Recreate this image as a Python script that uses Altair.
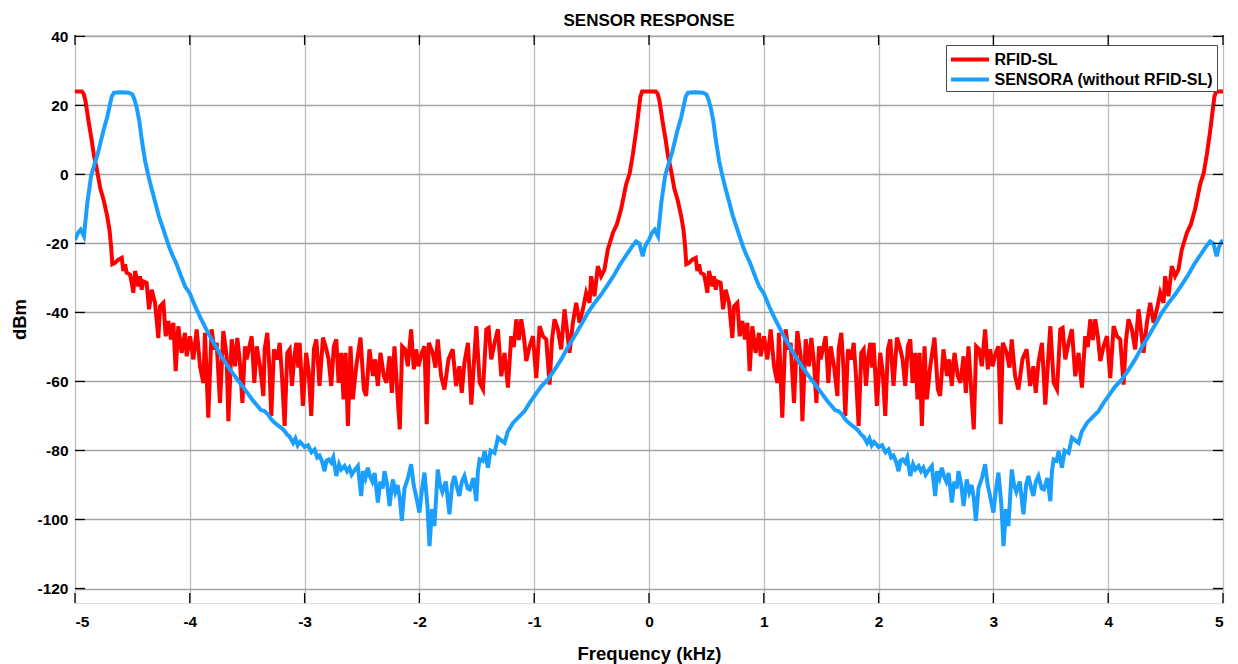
import altair as alt
import pandas as pd

# ---- data -----------------------------------------------------------------
# The response repeats after every carrier (at -5 kHz and at 0 kHz); values are
# given as kHz past the carrier.
carrier_khz = [-5.0, 0.0]

red_offset_khz = [
    0.000, 0.030, 0.060, 0.075, 0.090, 0.120, 0.145, 0.165, 0.190, 0.220,
    0.250, 0.280, 0.300, 0.315, 0.325, 0.349, 0.378, 0.407, 0.421, 0.436,
    0.450, 0.479, 0.494, 0.508, 0.523, 0.552, 0.566, 0.581, 0.595, 0.624,
    0.645, 0.668, 0.697, 0.726, 0.741, 0.770, 0.790, 0.813, 0.836, 0.857,
    0.877, 0.900, 0.929, 0.958, 0.973, 1.002, 1.031, 1.060, 1.089, 1.118,
    1.132, 1.161, 1.190, 1.214, 1.234, 1.263, 1.292, 1.321, 1.336, 1.365,
    1.394, 1.414, 1.437, 1.458, 1.481, 1.495, 1.539, 1.562, 1.583, 1.612,
    1.641, 1.652, 1.675, 1.693, 1.710, 1.733, 1.762, 1.783, 1.803, 1.826,
    1.849, 1.870, 1.890, 1.910, 1.928, 1.945, 1.957, 1.985, 2.014, 2.035,
    2.058, 2.081, 2.102, 2.130, 2.160, 2.189, 2.209, 2.232, 2.255, 2.276,
    2.296, 2.319, 2.339, 2.357, 2.377, 2.400, 2.420, 2.450, 2.487, 2.516,
    2.536, 2.565, 2.595, 2.615, 2.638, 2.661, 2.690, 2.713, 2.740, 2.760,
    2.783, 2.806, 2.829, 2.850, 2.876, 2.899, 2.928, 2.951, 2.972, 2.992,
    3.021, 3.044, 3.064, 3.082, 3.116, 3.140, 3.160, 3.189, 3.218, 3.253,
    3.290, 3.320, 3.348, 3.369, 3.392, 3.423, 3.452, 3.475, 3.496, 3.525,
    3.554, 3.583, 3.603, 3.626, 3.655, 3.684, 3.713, 3.742, 3.771, 3.800,
    3.822, 3.844, 3.866, 3.887, 3.910, 3.931, 3.960, 3.989, 4.018, 4.047,
    4.076, 4.105, 4.134, 4.155, 4.177, 4.206, 4.235, 4.264, 4.285, 4.308,
    4.337, 4.366, 4.395, 4.424, 4.453, 4.482, 4.496, 4.525, 4.554, 4.583,
    4.612, 4.641, 4.686, 4.720, 4.757, 4.774, 4.800, 4.832, 4.860, 4.890,
    4.910, 4.925, 4.940, 5.000,
]
red_dbm = [
    24.0, 24.0, 24.0, 23.4, 21.5, 15.0, 10.0, 5.5, 1.5, -4.0,
    -7.5, -12.0, -16.0, -21.0, -26.0, -25.6, -24.7, -24.2, -28.0, -26.1,
    -28.5, -29.0, -31.4, -34.3, -28.0, -32.4, -29.5, -33.4, -31.0, -31.4,
    -39.1, -33.4, -37.2, -47.4, -38.2, -37.2, -46.9, -42.5, -47.8, -43.0,
    -57.0, -44.0, -51.7, -45.9, -52.7, -46.9, -53.6, -44.9, -55.6, -60.4,
    -45.9, -70.5, -44.9, -50.7, -48.8, -66.2, -45.4, -52.7, -71.5, -47.8,
    -55.6, -47.4, -54.6, -66.2, -49.8, -53.6, -46.9, -60.4, -49.8, -55.6,
    -64.2, -50.7, -45.9, -55.6, -70.0, -50.7, -53.6, -48.8, -58.4, -72.9,
    -51.7, -50.7, -61.3, -53.0, -48.8, -56.0, -48.8, -67.1, -51.7, -57.0,
    -70.0, -50.7, -47.8, -61.3, -47.3, -50.7, -53.6, -61.3, -49.8, -47.8,
    -60.4, -51.7, -65.2, -51.7, -72.9, -49.8, -65.2, -55.6, -47.3, -62.3,
    -64.2, -50.7, -58.4, -53.6, -61.3, -51.7, -58.4, -60.4, -52.7, -63.3,
    -49.8, -62.3, -73.9, -49.8, -50.7, -55.6, -44.9, -56.5, -50.7, -55.6,
    -51.7, -49.8, -72.4, -48.8, -51.7, -56.0, -47.8, -58.4, -62.3, -53.6,
    -50.7, -61.3, -55.6, -63.3, -54.6, -48.8, -66.7, -54.6, -44.0, -60.4,
    -62.3, -44.9, -44.5, -53.6, -48.8, -44.9, -58.5, -51.7, -61.8, -46.9,
    -50.0, -42.0, -48.0, -42.0, -47.0, -54.1, -49.8, -46.9, -59.0, -44.0,
    -46.9, -47.8, -60.9, -48.0, -42.0, -44.9, -50.7, -39.1, -45.0, -51.7,
    -43.0, -37.2, -43.0, -39.1, -34.3, -37.2, -29.5, -35.3, -26.6, -29.5,
    -27.6, -21.8, -16.9, -14.5, -10.0, -7.3, -3.0, 0.4, 6.0, 13.0,
    18.5, 22.5, 24.0, 24.0,
]

blue_offset_khz = [
    0.000, 0.025, 0.049, 0.078, 0.107, 0.140, 0.170, 0.200, 0.250, 0.280,
    0.300, 0.320, 0.340, 0.400, 0.470, 0.500, 0.520, 0.540, 0.560, 0.580,
    0.610, 0.640, 0.670, 0.700, 0.730, 0.760, 0.790, 0.820, 0.850, 0.880,
    0.930, 0.960, 1.000, 1.050, 1.100, 1.160, 1.220, 1.280, 1.340, 1.400,
    1.490, 1.550, 1.620, 1.650, 1.680, 1.710, 1.740, 1.770, 1.800, 1.826,
    1.850, 1.870, 1.900, 1.920, 1.940, 1.960, 1.980, 2.000, 2.030, 2.060,
    2.087, 2.110, 2.130, 2.150, 2.174, 2.190, 2.210, 2.232, 2.250, 2.276,
    2.300, 2.320, 2.348, 2.370, 2.390, 2.410, 2.440, 2.464, 2.493, 2.510,
    2.530, 2.551, 2.570, 2.590, 2.610, 2.638, 2.660, 2.680, 2.696, 2.720,
    2.740, 2.768, 2.790, 2.810, 2.830, 2.847, 2.870, 2.900, 2.928, 2.950,
    2.970, 3.000, 3.020, 3.044, 3.070, 3.088, 3.110, 3.131, 3.160, 3.180,
    3.200, 3.230, 3.262, 3.285, 3.305, 3.330, 3.348, 3.370, 3.392, 3.420,
    3.440, 3.470, 3.496, 3.510, 3.525, 3.550, 3.568, 3.597, 3.620, 3.655,
    3.684, 3.710, 3.742, 3.770, 3.815, 3.860, 3.916, 3.960, 4.003, 4.060,
    4.119, 4.180, 4.235, 4.290, 4.351, 4.410, 4.467, 4.520, 4.583, 4.640,
    4.699, 4.750, 4.800, 4.850, 4.887, 4.916, 4.945, 4.965, 4.989, 5.000,
]
blue_dbm = [
    -19.0, -17.0, -16.0, -17.9, -8.3, -0.5, 3.0, 6.2, 13.0, 16.5,
    19.5, 22.6, 23.7, 23.8, 23.7, 23.2, 21.5, 19.0, 15.5, 10.5,
    4.0, -0.5, -4.5, -8.2, -12.0, -15.0, -18.0, -21.0, -23.5, -25.6,
    -30.0, -32.5, -34.5, -38.5, -42.0, -46.0, -49.5, -53.0, -56.0, -58.8,
    -62.8, -65.5, -68.3, -68.6, -69.5, -71.0, -72.0, -72.8, -73.5, -74.4,
    -75.5, -76.0, -77.8, -76.5, -78.5, -77.5, -78.2, -79.0, -78.5, -80.5,
    -79.7, -82.0, -81.5, -83.0, -86.0, -83.0, -82.6, -83.5, -82.0, -87.4,
    -84.0, -85.5, -84.5, -86.0, -85.0, -87.0, -85.5, -84.5, -93.2, -86.0,
    -88.0, -85.0, -87.5, -89.0, -86.5, -95.1, -89.0, -91.0, -86.0, -90.0,
    -96.1, -88.4, -92.0, -90.0, -94.0, -100.4, -91.0, -88.0, -84.0, -90.0,
    -93.0, -98.0, -92.0, -86.4, -96.0, -107.7, -97.0, -101.9, -85.5, -90.0,
    -92.0, -89.0, -98.5, -90.0, -87.4, -91.0, -93.2, -89.0, -87.4, -91.0,
    -91.3, -88.0, -94.7, -86.0, -82.6, -83.0, -80.2, -85.0, -80.0, -80.7,
    -76.3, -77.0, -77.8, -74.5, -72.0, -70.5, -68.6, -66.2, -64.2, -61.5,
    -59.4, -56.5, -53.6, -50.2, -46.9, -43.5, -40.1, -37.5, -34.8, -32.0,
    -29.0, -26.0, -23.5, -21.0, -19.4, -20.0, -23.7, -21.0, -19.4, -19.0,
]

series_names = ["RFID-SL", "SENSORA (without RFID-SL)"]
series_colors = ["#ff0000", "#1a9fff"]
x_ticks = [-5, -4, -3, -2, -1, 0, 1, 2, 3, 4, 5]
y_ticks = [-120, -100, -80, -60, -40, -20, 0, 20, 40]

# ---- build the table -------------------------------------------------------
rows = []
for c in carrier_khz:
    for o, v in zip(red_offset_khz, red_dbm):
        rows.append({"freq": round(c + o, 4), "dbm": v, "series": series_names[0]})
for c in carrier_khz:
    for o, v in zip(blue_offset_khz, blue_dbm):
        rows.append({"freq": round(c + o, 4), "dbm": v, "series": series_names[1]})
df = pd.DataFrame(rows)

W, H = 1148, 568
FONT = "Liberation Sans"
x_dom = [-5, 5]
y_dom = [-124.2, 40.4]
LABEL = "'' + datum.value"   # plain hyphen-minus, as in the reference

xs = alt.Scale(domain=x_dom, nice=False, zero=False)
ys = alt.Scale(domain=y_dom, nice=False, zero=False)

lines = alt.Chart(df).mark_line(strokeWidth=4, clip=True).encode(
    x=alt.X("freq:Q", scale=xs, title="Frequency (kHz)",
            axis=alt.Axis(values=x_ticks, labelExpr=LABEL, grid=True,
                          gridColor="#bdbdbd", gridWidth=1.3,
                          ticks=False, tickSize=0, domain=False,
                          labelFont=FONT, labelFontSize=15.5, labelFontWeight="bold",
                          labelColor="black", labelPadding=11,
                          titleFont=FONT, titleFontSize=18.5, titleFontWeight="bold",
                          titleColor="black", titleY=41)),
    y=alt.Y("dbm:Q", scale=ys, title="dBm",
            axis=alt.Axis(values=y_ticks, labelExpr=LABEL, grid=True,
                          gridColor="#a3a3a3", gridWidth=1.3,
                          ticks=False, tickSize=0, domain=False,
                          labelFont=FONT, labelFontSize=15.5, labelFontWeight="bold",
                          labelColor="black", labelPadding=7,
                          titleFont=FONT, titleFontSize=18.5, titleFontWeight="bold",
                          titleColor="black", titleX=-46, titleY=H / 2)),
    color=alt.Color("series:N",
                    scale=alt.Scale(domain=series_names, range=series_colors),
                    sort=series_names,
                    legend=alt.Legend(title=None, orient="none", legendX=871, legendY=10,
                                      symbolType="M-2,0H2", symbolSize=361,
                                      symbolStrokeWidth=4, symbolOffset=9.5,
                                      labelOffset=13, labelLimit=0,
                                      labelFont=FONT, labelFontSize=16,
                                      labelFontWeight="bold", labelColor="black",
                                      fillColor="white", strokeColor="#4a4a4a",
                                      padding=3, rowPadding=0)),
)

# inward tick marks on all four sides of the box
tx = pd.DataFrame({"v": x_ticks})
ty = pd.DataFrame({"v": y_ticks})
tick_bottom = alt.Chart(tx).mark_rule(color="black", strokeWidth=1.3).encode(
    x=alt.X("v:Q", scale=xs), y=alt.value(H), y2=alt.value(H - 10))
tick_top = alt.Chart(tx).mark_rule(color="black", strokeWidth=1.3).encode(
    x=alt.X("v:Q", scale=xs), y=alt.value(0), y2=alt.value(10))
tick_left = alt.Chart(ty).mark_rule(color="black", strokeWidth=1.3).encode(
    y=alt.Y("v:Q", scale=ys), x=alt.value(0), x2=alt.value(10))
tick_right = alt.Chart(ty).mark_rule(color="black", strokeWidth=1.3).encode(
    y=alt.Y("v:Q", scale=ys), x=alt.value(W), x2=alt.value(W - 10))

chart = alt.layer(lines, tick_bottom, tick_top, tick_left, tick_right).properties(
    width=W, height=H,
    title=alt.TitleParams("SENSOR RESPONSE", font=FONT, fontSize=17,
                          fontWeight="bold", color="black", offset=7, dy=8),
    autosize=alt.AutoSizeParams(type="none"),
    padding={"left": 75, "top": 35, "right": 15, "bottom": 61},
).configure_view(
    stroke="black", strokeWidth=1.5
).configure(background="white")

chart.save("out.html", embed_options={"renderer": "svg", "actions": False})
